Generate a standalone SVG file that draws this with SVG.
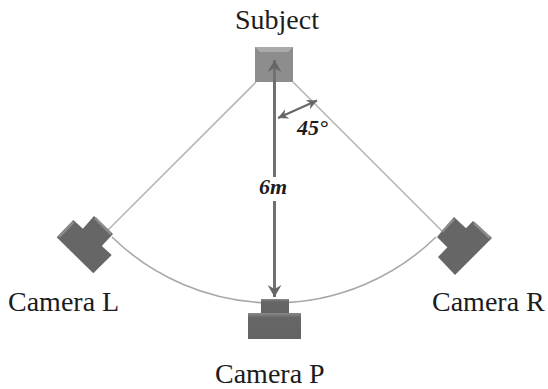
<svg xmlns="http://www.w3.org/2000/svg" width="548" height="389" viewBox="0 0 548 389">
<defs>
<linearGradient id="cam" x1="0" y1="0" x2="0" y2="1"><stop offset="0" stop-color="#8a8a8a"/><stop offset="0.18" stop-color="#666"/><stop offset="1" stop-color="#646464"/></linearGradient>
<marker id="ah" markerUnits="userSpaceOnUse" markerWidth="16" markerHeight="14" refX="12" refY="7" orient="auto-start-reverse"><path d="M0 0L12 7L0 14L4 7Z" fill="#666"/></marker>
<marker id="as" markerUnits="userSpaceOnUse" markerWidth="12" markerHeight="12" refX="10" refY="5" orient="auto-start-reverse"><path d="M0 0L10 5L0 10L3 5Z" fill="#666"/></marker>
</defs>
<style>
text{font-family:"Liberation Serif","Times New Roman",serif;fill:#1c1c1c}
.lab{font-size:28px}
.val{font-size:22px;font-weight:bold;font-style:italic}
.cam{fill:#666}
.hi{fill:none;stroke:#8c8c8c;stroke-width:2.500}
.thin{fill:none;stroke:#b4b4b4;stroke-width:1.6}
.arc{fill:none;stroke:#a8a8a8;stroke-width:1.6}
.ar{fill:none;stroke:#707070;stroke-width:3}
</style>
<rect width="548" height="389" fill="#fff"/>
<g id="wires">
<path class="thin" d="M256 82L106 232"/>
<path class="thin" d="M293 82L443 232"/>
<path class="arc" d="M112 237A232 232 0 0 0 436 237"/>
</g>
<g id="subject"><rect x="255" y="47" width="38" height="35" fill="#8d8d8d"/><path d="M255 47H293L288 52H260Z" fill="#aaa"/><text class="lab" x="235" y="29">Subject</text></g>
<g id="camera-l"><path class="cam" d="M80 232L94 216L113 234L98 250Z"/><path class="hi" d="M95 218L111 234"/><path class="cam" d="M73.300 220L56.700 237.300L93.300 273.300L111.700 255Z"/><path class="hi" d="M59 237L73.500 222"/><text class="lab" x="8" y="311">Camera L</text></g>
<g id="camera-r"><path class="cam" d="M437 237L454 217L470 232L452 252Z"/><path class="hi" d="M442 232L454 219"/><path class="cam" d="M438 257L473 221L492 238L455 275Z"/><path class="hi" d="M474 223L490 238"/><text class="lab" x="432" y="311">Camera R</text></g>
<g id="camera-p"><rect x="261" y="299" width="28" height="15" fill="url(#cam)"/><rect x="248" y="313" width="53" height="26" fill="url(#cam)"/><text class="lab" x="215" y="383">Camera P</text></g>
<g id="connectors">
<path class="ar" d="M274.500 60V297" marker-start="url(#ah)" marker-end="url(#ah)"/>
<path d="M278 118L317 100.500" fill="none" stroke="#666" stroke-width="2" marker-start="url(#as)" marker-end="url(#as)"/>
</g>
<g id="labels"><rect x="257" y="177" width="34" height="24" fill="#fff"/><text class="val" x="259" y="194">6m</text><text class="val" x="297" y="135">45°</text></g>
</svg>
